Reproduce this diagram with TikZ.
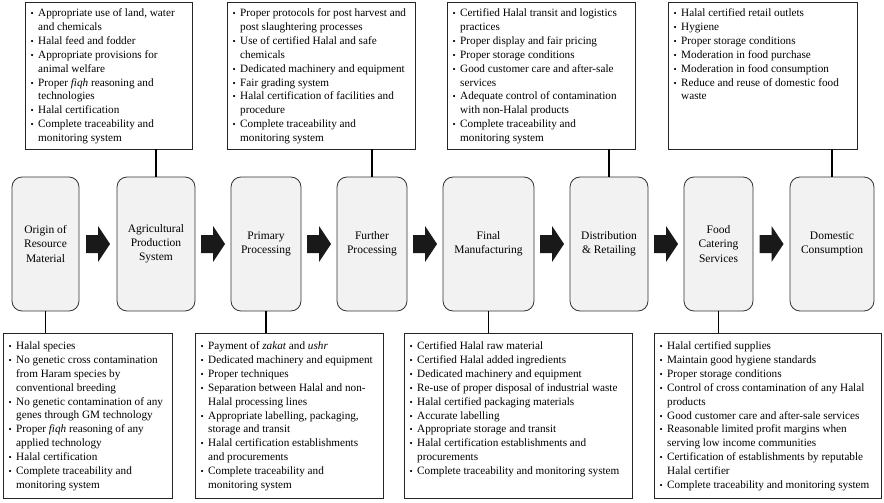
\documentclass[tikz,border=0pt]{standalone}
\usepackage{fontspec}
\setmainfont{Liberation Serif}
\usetikzlibrary{calc}
\newcommand\bul{\makebox[8pt][l]{\hspace{0.5pt}{\fontsize{9}{9}\selectfont •}}}
\newcommand\ind{\hspace*{8pt}}
\newcommand\blockarrow[2]{\fill[blockarrow] ($(#1.east)!0.5!(#2.west)$) ++(-12,-9) -- ++(12,0) -- ++(0,-9) -- ++(12,18) -- ++(-12,18) -- ++(0,-9) -- ++(-12,0) -- cycle;}
\tikzset{
 listbox/.style={draw=black!85, line width=0.9pt, inner sep=0pt, outer sep=0pt, anchor=north west},
 topbox/.style={listbox, minimum height=147pt},
 botbox/.style={listbox, minimum height=165pt},
 stagebox/.style={draw=black!80, fill=black!5, line width=0.8pt, rounded corners=10pt, inner sep=0pt, outer sep=0pt, anchor=north west, minimum height=134pt, align=center, font=\fontsize{11.5}{14.2}\selectfont},
 listtext/.style={anchor=north west, inner sep=0pt, align=left, font=\fontsize{11.2}{13.9}\selectfont},
 link/.style={line width=1.6pt, black},
 blockarrow/.style={fill=black!90}
}
\begin{document}
\begin{tikzpicture}[x=1pt,y=-1pt]
\useasboundingbox (0,0) rectangle (884,503);
% stage boxes
\node[stagebox, minimum width=67pt] (m1) at (12,177) {Origin of\\Resource\\Material};
\node[stagebox, minimum width=78pt] (m2) at (117,177) {Agricultural\\Production\\System};
\node[stagebox, minimum width=70pt] (m3) at (231,177) {Primary\\Processing};
\node[stagebox, minimum width=70pt] (m4) at (337,177) {Further\\Processing};
\node[stagebox, minimum width=91pt] (m5) at (443,177) {Final\\Manufacturing};
\node[stagebox, minimum width=78pt] (m6) at (570,177) {Distribution\\\& Retailing};
\node[stagebox, minimum width=69pt] (m7) at (684,177) {Food\\Catering\\Services};
\node[stagebox, minimum width=84pt] (m8) at (790,177) {Domestic\\Consumption};
% block arrows
\blockarrow{m1}{m2}
\blockarrow{m2}{m3}
\blockarrow{m3}{m4}
\blockarrow{m4}{m5}
\blockarrow{m5}{m6}
\blockarrow{m6}{m7}
\blockarrow{m7}{m8}
% top boxes
\node[topbox, minimum width=167pt] (t1) at (25,2) {};
\node[topbox, minimum width=188pt] (t2) at (227,2) {};
\node[topbox, minimum width=188pt] (t3) at (447,2) {};
\node[topbox, minimum width=189pt] (t4) at (668,2) {};
\node[listtext] (t1x) at ([shift={(5,6.5)}]t1.north west) {\bul Appropriate use of land, water\\ \ind and chemicals\\ \bul Halal feed and fodder\\ \bul Appropriate provisions for\\ \ind animal welfare\\ \bul Proper \textit{fiqh} reasoning and\\ \ind technologies\\ \bul Halal certification\\ \bul Complete traceability and\\ \ind monitoring system};
\node[listtext] (t2x) at ([shift={(5,6.5)}]t2.north west) {\bul Proper protocols for post harvest and\\ \ind post slaughtering processes\\ \bul Use of certified Halal and safe\\ \ind chemicals\\ \bul Dedicated machinery and equipment\\ \bul Fair grading system\\ \bul Halal certification of facilities and\\ \ind procedure\\ \bul Complete traceability and\\ \ind monitoring system};
\node[listtext] (t3x) at ([shift={(5,6.5)}]t3.north west) {\bul Certified Halal transit and logistics\\ \ind practices\\ \bul Proper display and fair pricing\\ \bul Proper storage conditions\\ \bul Good customer care and after-sale\\ \ind services\\ \bul Adequate control of contamination\\ \ind with non-Halal products\\ \bul Complete traceability and\\ \ind monitoring system};
\node[listtext] (t4x) at ([shift={(5,6.5)}]t4.north west) {\bul Halal certified retail outlets\\ \bul Hygiene\\ \bul Proper storage conditions\\ \bul Moderation in food purchase\\ \bul Moderation in food consumption\\ \bul Reduce and reuse of domestic food\\ \ind waste};
% bottom boxes
\node[botbox, minimum width=169pt] (b1) at (3,333) {};
\node[botbox, minimum width=188pt] (b2) at (195,333) {};
\node[botbox, minimum width=228pt] (b3) at (404,333) {};
\node[botbox, minimum width=227pt] (b4) at (654,333) {};
\node[listtext] (b1x) at ([shift={(5,8.5)}]b1.north west) {\bul Halal species\\ \bul No genetic cross contamination\\ \ind from Haram species by\\ \ind conventional breeding\\ \bul No genetic contamination of any\\ \ind genes through GM technology\\ \bul Proper \textit{fiqh} reasoning of any\\ \ind applied technology\\ \bul Halal certification\\ \bul Complete traceability and\\ \ind monitoring system};
\node[listtext] (b2x) at ([shift={(5,8.5)}]b2.north west) {\bul Payment of \textit{zakat} and \textit{ushr}\\ \bul Dedicated machinery and equipment\\ \bul Proper techniques\\ \bul Separation between Halal and non-\\ \ind Halal processing lines\\ \bul Appropriate labelling, packaging,\\ \ind storage and transit\\ \bul Halal certification establishments\\ \ind and procurements\\ \bul Complete traceability and\\ \ind monitoring system};
\node[listtext] (b3x) at ([shift={(5,8.5)}]b3.north west) {\bul Certified Halal raw material\\ \bul Certified Halal added ingredients\\ \bul Dedicated machinery and equipment\\ \bul Re-use of proper disposal of industrial waste\\ \bul Halal certified packaging materials\\ \bul Accurate labelling\\ \bul Appropriate storage and transit\\ \bul Halal certification establishments and\\ \ind procurements\\ \bul Complete traceability and monitoring system};
\node[listtext] (b4x) at ([shift={(5,8.5)}]b4.north west) {\bul Halal certified supplies\\ \bul Maintain good hygiene standards\\ \bul Proper storage conditions\\ \bul Control of cross contamination of any Halal\\ \ind products\\ \bul Good customer care and after-sale services\\ \bul Reasonable limited profit margins when\\ \ind serving low income communities\\ \bul Certification of establishments by reputable\\ \ind Halal certifier\\ \bul Complete traceability and monitoring system};
% connectors
\draw[link] (m2.north |- t1.south) -- (m2.north);
\draw[link] (m4.north |- t2.south) -- (m4.north);
\draw[link] (m6.north |- t3.south) -- (m6.north);
\draw[link] (m8.north |- t4.south) -- (m8.north);
\draw[link] (m1.south) -- (m1.south |- b1.north);
\draw[link] (m3.south) -- (m3.south |- b2.north);
\draw[link] (m5.south) -- (m5.south |- b3.north);
\draw[link] (m7.south) -- (m7.south |- b4.north);
\end{tikzpicture}
\end{document}
